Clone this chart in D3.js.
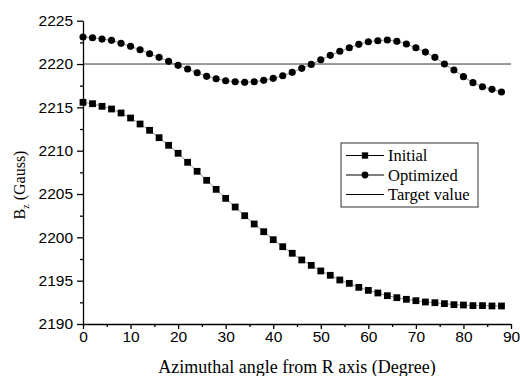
<!DOCTYPE html>
<html>
<head>
<meta charset="utf-8">
<script src="https://cdn.jsdelivr.net/npm/d3@7"></script>
<style>
  body { margin: 0; background: #fff; }
  svg { display: block; }
</style>
</head>
<body>
<svg width="520" height="376"></svg>
<script>
// azimuthal angle (degree), every 2 degrees
var angles = d3.range(0, 90, 2);

var initialValues = [
  2215.58, 2215.42, 2215.12, 2214.81, 2214.35, 2213.77, 2213.08, 2212.35, 2211.50, 2210.62,
  2209.70, 2208.66, 2207.62, 2206.58, 2205.54, 2204.50, 2203.50, 2202.50, 2201.54, 2200.65,
  2199.73, 2198.92, 2198.16, 2197.39, 2196.77, 2196.12, 2195.62, 2195.08, 2194.69, 2194.23,
  2193.88, 2193.58, 2193.27, 2193.04, 2192.85, 2192.69, 2192.54, 2192.46, 2192.35, 2192.23,
  2192.19, 2192.12, 2192.12, 2192.08, 2192.08
];

var optimizedValues = [
  2223.12, 2223.03, 2222.88, 2222.73, 2222.39, 2222.04, 2221.65, 2221.19, 2220.77, 2220.31,
  2219.85, 2219.42, 2219.00, 2218.58, 2218.30, 2218.07, 2217.96, 2217.89, 2217.96, 2218.12,
  2218.35, 2218.65, 2219.04, 2219.50, 2219.96, 2220.50, 2221.00, 2221.47, 2221.88, 2222.27,
  2222.57, 2222.69, 2222.77, 2222.62, 2222.31, 2221.88, 2221.38, 2220.77, 2220.00, 2219.31,
  2218.54, 2217.85, 2217.38, 2217.08, 2216.77
];

var targetValue = 2220;

var xTicks = [0, 10, 20, 30, 40, 50, 60, 70, 80, 90];
var yTicks = [2190, 2195, 2200, 2205, 2210, 2215, 2220, 2225];
var legendLabels = ["Initial", "Optimized", "Target value"];

var SANS = "'Liberation Sans', Arial, sans-serif";
var SERIF = "'Liberation Serif', 'Times New Roman', 'DejaVu Serif', serif";

var svg = d3.select("svg");

var xScale = d3.scaleLinear().domain([0, 90]).range([83, 511]);
var yScale = d3.scaleLinear().domain([2190, 2225]).range([324, 20.7]);

// minor ticks
svg.append("g")
  .attr("transform", "translate(0," + yScale(2190) + ")")
  .call(d3.axisBottom(xScale).tickValues(d3.range(5, 90, 10)).tickSize(3).tickFormat(""))
  .call(g => g.select(".domain").remove());
svg.append("g")
  .attr("transform", "translate(" + xScale(0) + ",0)")
  .call(d3.axisLeft(yScale).tickValues(d3.range(2192.5, 2225, 5)).tickSize(3).tickFormat(""))
  .call(g => g.select(".domain").remove());

// major axes
svg.append("g")
  .attr("transform", "translate(0," + yScale(2190) + ")")
  .call(d3.axisBottom(xScale).tickValues(xTicks).tickFormat(d3.format("d"))
    .tickSizeInner(5).tickSizeOuter(0).tickPadding(2));
svg.append("g")
  .attr("transform", "translate(" + xScale(0) + ",0)")
  .call(d3.axisLeft(yScale).tickValues(yTicks).tickFormat(d3.format("d"))
    .tickSizeInner(6).tickSizeOuter(0).tickPadding(4));
svg.selectAll(".domain, .tick line").attr("stroke", "#000").attr("stroke-width", 1.3);
svg.selectAll(".tick text").attr("font-family", SANS).attr("font-size", 15.5).attr("fill", "#000");

// target line
svg.append("line")
  .attr("x1", xScale(0)).attr("x2", xScale(90))
  .attr("y1", yScale(targetValue)).attr("y2", yScale(targetValue))
  .attr("stroke", "#333").attr("stroke-width", 1);

var line = d3.line().x(function (d) { return xScale(d[0]); }).y(function (d) { return yScale(d[1]); });

function drawSeries(values, shape) {
  var pts = angles.map(function (a, i) { return [a, values[i]]; });
  svg.append("path").datum(pts)
    .attr("d", line).attr("fill", "none")
    .attr("stroke", "#777").attr("stroke-width", 0.8);
  svg.selectAll(".m-" + shape).data(pts).enter()
    .append("path")
    .attr("class", "m-" + shape)
    .attr("transform", function (d) { return "translate(" + xScale(d[0]) + "," + yScale(d[1]) + ")"; })
    .attr("d", d3.symbol().type(shape === "square" ? d3.symbolSquare : d3.symbolCircle).size(shape === "square" ? 46 : 40))
    .attr("fill", "#000");
}
drawSeries(initialValues, "square");
drawSeries(optimizedValues, "circle");

// legend
var lg = svg.append("g").attr("transform", "translate(341,143)");
lg.append("rect").attr("width", 137).attr("height", 64)
  .attr("fill", "#fff").attr("stroke", "#333").attr("stroke-width", 1);
legendLabels.forEach(function (lab, i) {
  var y = 12.5 + i * 19.5;
  lg.append("line").attr("x1", 5).attr("x2", 43).attr("y1", y).attr("y2", y)
    .attr("stroke", "#000").attr("stroke-width", 1);
  if (i < 2) {
    lg.append("path")
      .attr("transform", "translate(24," + y + ")")
      .attr("d", d3.symbol().type(i === 0 ? d3.symbolSquare : d3.symbolCircle).size(i === 0 ? 40 : 36))
      .attr("fill", "#000");
  }
  lg.append("text")
    .attr("x", 47).attr("y", y + 5.5)
    .attr("font-family", SERIF).attr("font-size", 16.5).attr("fill", "#000")
    .text(lab);
});

// axis titles
var yl = svg.append("text")
  .attr("transform", "translate(25,185) rotate(-90)")
  .attr("text-anchor", "middle")
  .attr("font-family", SERIF).attr("font-size", 16).attr("fill", "#000");
yl.append("tspan").text("B");
yl.append("tspan").attr("font-size", 10).attr("dy", 4).text("z");
yl.append("tspan").attr("dy", -4).text(" (Gauss)");

svg.append("text")
  .attr("x", 297).attr("y", 373)
  .attr("text-anchor", "middle")
  .attr("font-family", SERIF).attr("font-size", 18).attr("fill", "#000")
  .text("Azimuthal angle from R axis (Degree)");
</script>
</body>
</html>
